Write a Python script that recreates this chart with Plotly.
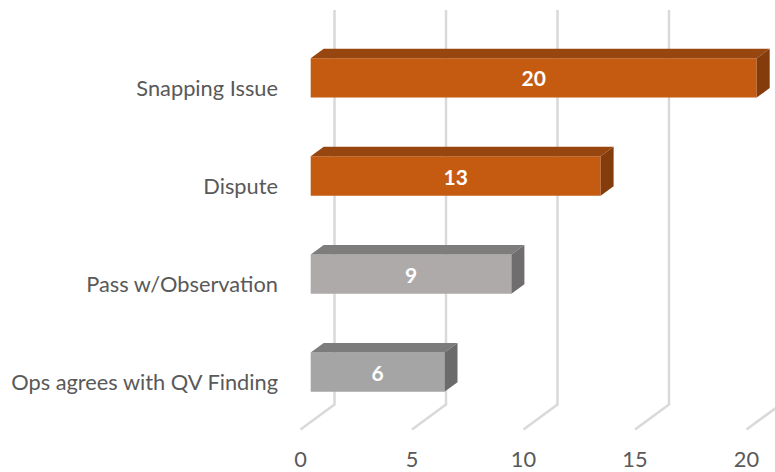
import plotly.graph_objects as go

categories = ["Snapping Issue", "Dispute", "Pass w/Observation", "Ops agrees with QV Finding"]
values = [20, 13, 9, 6]
x_ticks = [0, 5, 10, 15, 20]
face_colors = ["#C55A11", "#C55A11", "#AEAAAA", "#A5A5A5"]
top_colors = ["#98460F", "#98460F", "#7F7C7C", "#7C7C7C"]
side_colors = ["#843C0C", "#843C0C", "#6F6D6D", "#6B6B6B"]

W, H = 775, 472
PLOT_L, PLOT_B = 279, 444.5
X0_PX, XU = 300.5, 22.3      # px of value 0 on the front plane, px per unit
Y0_PX, YU = 88.0, 98.2       # px of first row, px per row

fig = go.Figure()
rows = list(range(len(categories)))


def dx(px):
    return px / XU


def dy(px):
    return px / YU


# floor + back wall grid lines (3D projection of the value ticks)
for t in x_ticks:
    xf = t
    xb = t + dx(34)
    fig.add_shape(type="line", layer="below", xref="x", yref="y",
                  x0=xf, x1=xb, y0=rows[-1] + dy(430 - 382.6), y1=rows[-1] + dy(405 - 382.6),
                  line=dict(color="#D9D9D9", width=2.5))
    fig.add_shape(type="line", layer="below", xref="x", yref="y",
                  x0=xb, x1=xb, y0=rows[-1] + dy(406 - 382.6), y1=rows[0] + dy(10 - 88),
                  line=dict(color="#D9D9D9", width=2.5))

base = dx(10.2)
shift = dy(-10)
half = dy(19.7)
ddx, ddy = dx(13), dy(9.5)

fig.add_trace(go.Bar(
    y=[r + shift for r in rows], x=values, base=[base] * len(values),
    orientation="h", width=half * 2,
    marker=dict(color=face_colors, line=dict(width=0)),
    text=[str(v) for v in values], textposition="inside", insidetextanchor="middle",
    textangle=0, constraintext="none",
    textfont=dict(family="Lato", size=21, color="white", weight="bold"),
    hoverinfo="skip", showlegend=False,
))

for r, v, tc, sc in zip(rows, values, top_colors, side_colors):
    c = r + shift
    xa, xe = base, base + v
    fig.add_trace(go.Scatter(
        x=[xa, xe, xe + ddx, xa + ddx, xa],
        y=[c - half, c - half, c - half - ddy, c - half - ddy, c - half],
        fill="toself", fillcolor=tc, mode="lines", line=dict(width=0),
        hoverinfo="skip", showlegend=False))
    fig.add_trace(go.Scatter(
        x=[xe, xe + ddx, xe + ddx, xe, xe],
        y=[c - half, c - half - ddy, c + half - ddy, c + half, c - half],
        fill="toself", fillcolor=sc, mode="lines", line=dict(width=0),
        hoverinfo="skip", showlegend=False))

fig.update_layout(
    width=W, height=H, autosize=False,
    margin=dict(l=PLOT_L, r=0, t=0, b=H - PLOT_B, pad=0, autoexpand=False),
    paper_bgcolor="white", plot_bgcolor="white",
    font=dict(family="Lato", size=21.8, color="#595959"),
    showlegend=False,
    xaxis=dict(range=[(PLOT_L - X0_PX) / XU, (W - X0_PX) / XU],
               tickmode="array", tickvals=x_ticks, showgrid=False, zeroline=False,
               showline=False, ticks="", automargin=False),
    yaxis=dict(range=[(PLOT_B - Y0_PX) / YU, -Y0_PX / YU],
               tickmode="array", tickvals=rows, ticktext=categories,
               showgrid=False, zeroline=False, showline=False, ticks="", automargin=False),
)
fig.write_html(
    "out.html",
    config={"displayModeBar": False},
    post_script="document.body.style.margin='0';document.documentElement.style.overflow='hidden';",
)
